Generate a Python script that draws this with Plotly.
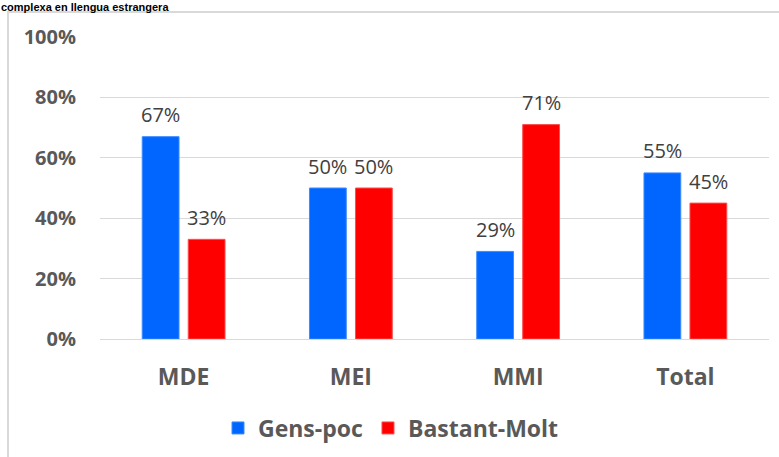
import plotly.graph_objects as go

# data
categories = ["MDE", "MEI", "MMI", "Total"]
gens_poc = [0.67, 0.50, 0.29, 0.55]
bastant_molt = [0.33, 0.50, 0.71, 0.45]
y_ticks = [0, 0.2, 0.4, 0.6, 0.8, 1.0]
y_tick_labels = ["0%", "20%", "40%", "60%", "80%", "100%"]
title_text = "complexa en llengua estrangera"

W, H = 779, 457
L, R, T, B = 100, 10, 37, 118
plot_w = W - L - R
plot_h = H - T - B


def px_x(p):
    return (p - L) / plot_w


def px_y(p):
    return (H - B - p) / plot_h


fig = go.Figure()
fig.add_trace(go.Bar(x=categories, y=gens_poc, name="Gens-poc",
                     marker=dict(color="#0066ff", line=dict(color="#3d8bff", width=1))))
fig.add_trace(go.Bar(x=categories, y=bastant_molt, name="Bastant-Molt",
                     marker=dict(color="#ff0000", line=dict(color="#ff4d4d", width=1))))

# data labels above each bar
for vals, shift in ((gens_poc, -23), (bastant_molt, 23)):
    for c, v in zip(categories, vals):
        fig.add_annotation(x=c, y=v, text="{:.0%}".format(v), showarrow=False,
                           xshift=shift, yshift=22, yanchor="middle",
                           font=dict(family="Open Sans", size=20, color="#404040"))

# title at the very top
fig.add_annotation(text=title_text, xref="paper", yref="paper",
                   x=px_x(0), y=px_y(0), xanchor="left", yanchor="top",
                   showarrow=False, borderpad=0,
                   font=dict(family="Liberation Sans", size=11, color="#000000", weight="bold"))

# chart border
fig.add_shape(type="rect", xref="paper", yref="paper",
              x0=px_x(8), x1=px_x(790), y0=px_y(470), y1=px_y(12),
              line=dict(color="#d9d9d9", width=2), layer="below")

fig.update_layout(
    width=W, height=H,
    margin=dict(l=L, r=R, t=T, b=B),
    paper_bgcolor="white", plot_bgcolor="white",
    barmode="group", bargap=0.45, bargroupgap=0.2,
    font=dict(family="Open Sans", color="#595959"),
    legend=dict(orientation="h", x=px_x(391), xanchor="center",
                yref="container", y=(H - 428) / H, yanchor="middle",
                font=dict(family="Open Sans", size=23, color="#595959", weight="bold")),
    showlegend=True,
)
fig.update_xaxes(showgrid=False, showline=False, ticks="", automargin=False,
                 tickfont=dict(family="Open Sans", size=23, color="#595959", weight="bold"),
                 ticklabelstandoff=22)
fig.update_yaxes(range=[0, 1], tickvals=y_ticks, ticktext=y_tick_labels,
                 showgrid=True, gridcolor="#d9d9d9", gridwidth=1,
                 zeroline=True, zerolinecolor="#d9d9d9", zerolinewidth=1,
                 ticks="", ticklabelstandoff=23, automargin=False,
                 tickfont=dict(family="Open Sans", size=20, color="#595959", weight="bold"))

# page without the default body margin, so the chart starts at the window corner
fig.write_html("out.html", config={"displayModeBar": False},
               post_script="document.body.style.margin='0';")
